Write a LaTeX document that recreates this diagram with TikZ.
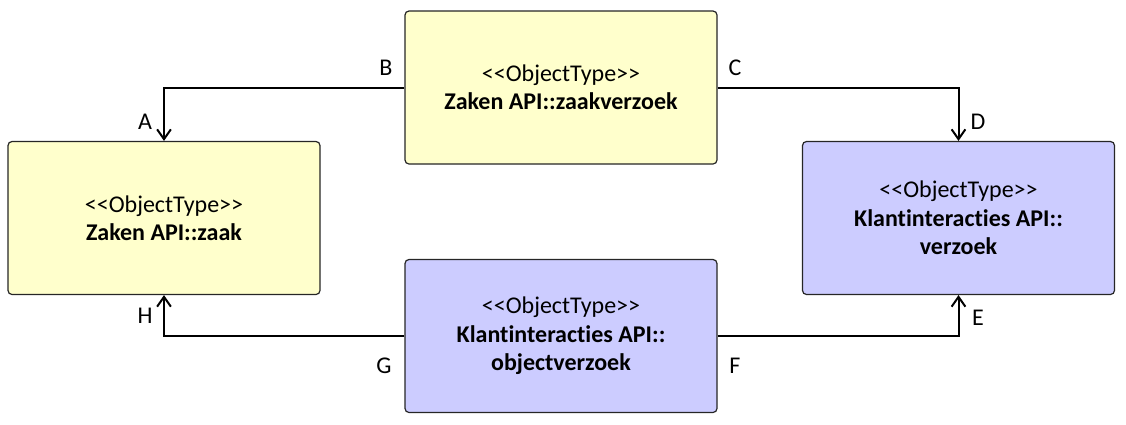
\documentclass[tikz,border=0pt]{standalone}
\usepackage{fontspec}
\setmainfont{Carlito}[Ligatures={TeXOff,CommonOff}]
\usetikzlibrary{arrows.meta}
\definecolor{zakenyellow}{HTML}{FFFFCC}
\definecolor{klantblue}{HTML}{CCCCFF}
\tikzstyle{objtype}=[rectangle, draw=black!85, line width=0.6pt, rounded corners=2pt, minimum width=156pt, minimum height=76.5pt, align=center, font=\fontsize{12}{14.2}\selectfont, inner sep=0pt]
\tikzstyle{endlabel}=[font=\fontsize{12}{14}\selectfont, inner sep=0pt]

\begin{document}
\begin{tikzpicture}[x=0.5pt, y=-0.5pt]
      \useasboundingbox (0,0) rectangle (1126,424);
      \node[objtype, fill=zakenyellow](zaakverzoek) at (561, 87.5) {<<ObjectType>>\\\textbf{Zaken API::zaakverzoek}};
      \node[objtype, fill=zakenyellow](zaak) at (164, 218) {<<ObjectType>>\\\textbf{Zaken API::zaak}};
      \node[objtype, fill=klantblue](verzoek) at (958.5, 218) {<<ObjectType>>\\\textbf{Klantinteracties API::}\\\textbf{verzoek}};
      \node[objtype, fill=klantblue](objectverzoek) at (561, 336) {<<ObjectType>>\\\textbf{Klantinteracties API::}\\\textbf{objectverzoek}};
      \node[endlabel](lA) at (145, 122) {A};
      \node[endlabel](lB) at (386, 68) {B};
      \node[endlabel](lC) at (735, 68) {C};
      \node[endlabel](lD) at (978, 122) {D};
      \node[endlabel](lE) at (978, 318) {E};
      \node[endlabel](lF) at (735, 366) {F};
      \node[endlabel](lG) at (384, 366) {G};
      \node[endlabel](lH) at (145, 316) {H};
      \begin{scope}[every path/.style={-{Straight Barb[angle=70:6pt]}, line width=1pt}]
        \draw (zaakverzoek.west) -| (zaak.north);
        \draw (zaakverzoek.east) -| (verzoek.north);
        \draw (objectverzoek.west) -| (zaak.south);
        \draw (objectverzoek.east) -| (verzoek.south);
      \end{scope}
    \end{tikzpicture}
\end{document}
